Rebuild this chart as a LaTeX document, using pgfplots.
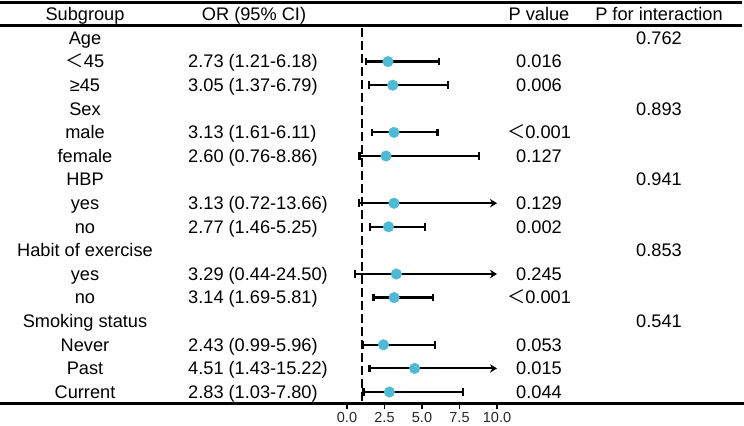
\documentclass[border=0pt]{standalone}
\usepackage{fontspec}
\setmainfont{Liberation Sans}
\newfontfamily\cjk{Noto Sans CJK SC}
\usepackage{pgfplots}
\pgfplotsset{compat=1.18}
\usetikzlibrary{arrows.meta}
\definecolor{ptc}{RGB}{77,187,213}
\newcommand{\lt}{{\cjk ＜}}
\newcommand{\tabfont}{\fontsize{18.2bp}{21bp}\selectfont}
\tikzset{
  tc/.style={anchor=base, inner sep=0pt, yshift=-6.4bp, font=\tabfont},
  tl/.style={anchor=base west, inner sep=0pt, yshift=-6.4bp, font=\tabfont},
}
\pgfplotsset{cibar/.style={black, line width=2.2bp, {Bar[width=7.5bp]}-{Bar[width=7.5bp]}},
             ciarr/.style={black, line width=2.2bp, {Bar[width=7.5bp]}-{Stealth[length=7bp,width=8.5bp]}}}
\begin{document}
\begin{tikzpicture}
\begin{axis}[
  scale only axis, width=744bp, height=401.2bp,
  xmin=-23.1333, xmax=26.4667, ymin=-16.5, ymax=0.5,
  axis x line*=bottom, axis y line=none,
  x axis line style={line width=2.8bp, black},
  xtick={0,2.5,5,7.5,10}, xticklabels={0.0,2.5,5.0,7.5,10.0},
  tick align=outside, major tick length=5.5bp,
  xtick style={line width=1.8bp, black},
  xticklabel style={font=\fontsize{14.5bp}{16bp}\selectfont, inner sep=3bp, text=black!85},
  ytick=\empty,
  clip=false,
]
% table rules
\draw[line width=2.3bp] (axis cs:-23.1333,0.5) -- (axis cs:26.333,0.5);
\draw[line width=2.4bp] (axis cs:-23.1333,-0.47) -- (axis cs:26.333,-0.47);
\coordinate (TL) at (axis cs:-23.1333,0.5);
\coordinate (BR) at (axis cs:26.4667,-16.5);
% reference line
\addplot[black, line width=2.3bp, dash pattern=on 8.5bp off 4.5bp] coordinates {(1,-0.58) (1,-16.5)};
% confidence intervals
\addplot[cibar] coordinates {(1.21,-2) (6.18,-2)};
\addplot[cibar] coordinates {(1.37,-3) (6.79,-3)};
\addplot[cibar] coordinates {(1.61,-5) (6.11,-5)};
\addplot[cibar] coordinates {(0.76,-6) (8.86,-6)};
\addplot[ciarr] coordinates {(0.72,-8) (10,-8)};
\addplot[cibar] coordinates {(1.46,-9) (5.25,-9)};
\addplot[ciarr] coordinates {(0.44,-11) (10,-11)};
\addplot[cibar] coordinates {(1.69,-12) (5.81,-12)};
\addplot[cibar] coordinates {(0.99,-14) (5.96,-14)};
\addplot[ciarr] coordinates {(1.43,-15) (10,-15)};
\addplot[cibar] coordinates {(1.03,-16) (7.80,-16)};
% point estimates
\addplot[only marks, color=ptc, mark=*, mark size=5.3bp, mark options={fill=ptc, draw=ptc, line width=0.4bp}] coordinates {
 (2.73,-2) (3.05,-3) (3.13,-5) (2.60,-6) (3.13,-8) (2.77,-9)
 (3.29,-11) (3.14,-12) (2.43,-14) (4.51,-15) (2.83,-16)};
% header
\node[tc] at (axis cs:-17.4667,0) {Subgroup};
\node[tc] at (axis cs:-6.2,0) {OR (95\% CI)};
\node[tc] at (axis cs:12.8,0) {P value};
\node[tc] at (axis cs:20.8,0) {P for interaction};
% subgroup column
\node[tc] at (axis cs:-17.4667,-1) {Age};
\node[tc] at (axis cs:-17.4667,-2) {\lt45};
\node[tc] at (axis cs:-17.4667,-3) {≥45};
\node[tc] at (axis cs:-17.4667,-4) {Sex};
\node[tc] at (axis cs:-17.4667,-5) {male};
\node[tc] at (axis cs:-17.4667,-6) {female};
\node[tc] at (axis cs:-17.4667,-7) {HBP};
\node[tc] at (axis cs:-17.4667,-8) {yes};
\node[tc] at (axis cs:-17.4667,-9) {no};
\node[tc] at (axis cs:-17.4667,-10) {Habit of exercise};
\node[tc] at (axis cs:-17.4667,-11) {yes};
\node[tc] at (axis cs:-17.4667,-12) {no};
\node[tc] at (axis cs:-17.4667,-13) {Smoking status};
\node[tc] at (axis cs:-17.4667,-14) {Never};
\node[tc] at (axis cs:-17.4667,-15) {Past};
\node[tc] at (axis cs:-17.4667,-16) {Current};
% OR column
\node[tl] at (axis cs:-10.6,-2) {2.73 (1.21-6.18)};
\node[tl] at (axis cs:-10.6,-3) {3.05 (1.37-6.79)};
\node[tl] at (axis cs:-10.6,-5) {3.13 (1.61-6.11)};
\node[tl] at (axis cs:-10.6,-6) {2.60 (0.76-8.86)};
\node[tl] at (axis cs:-10.6,-8) {3.13 (0.72-13.66)};
\node[tl] at (axis cs:-10.6,-9) {2.77 (1.46-5.25)};
\node[tl] at (axis cs:-10.6,-11) {3.29 (0.44-24.50)};
\node[tl] at (axis cs:-10.6,-12) {3.14 (1.69-5.81)};
\node[tl] at (axis cs:-10.6,-14) {2.43 (0.99-5.96)};
\node[tl] at (axis cs:-10.6,-15) {4.51 (1.43-15.22)};
\node[tl] at (axis cs:-10.6,-16) {2.83 (1.03-7.80)};
% P value column
\node[tc] at (axis cs:12.8,-2) {0.016};
\node[tc] at (axis cs:12.8,-3) {0.006};
\node[tc] at (axis cs:12.8,-5) {\lt0.001};
\node[tc] at (axis cs:12.8,-6) {0.127};
\node[tc] at (axis cs:12.8,-8) {0.129};
\node[tc] at (axis cs:12.8,-9) {0.002};
\node[tc] at (axis cs:12.8,-11) {0.245};
\node[tc] at (axis cs:12.8,-12) {\lt0.001};
\node[tc] at (axis cs:12.8,-14) {0.053};
\node[tc] at (axis cs:12.8,-15) {0.015};
\node[tc] at (axis cs:12.8,-16) {0.044};
% P for interaction
\node[tc] at (axis cs:20.8,-1) {0.762};
\node[tc] at (axis cs:20.8,-4) {0.893};
\node[tc] at (axis cs:20.8,-7) {0.941};
\node[tc] at (axis cs:20.8,-10) {0.853};
\node[tc] at (axis cs:20.8,-13) {0.541};
\end{axis}
\pgfresetboundingbox
\path[use as bounding box] ([yshift=2.6bp]TL) rectangle ([yshift=-22bp]BR);
\end{tikzpicture}
\end{document}
